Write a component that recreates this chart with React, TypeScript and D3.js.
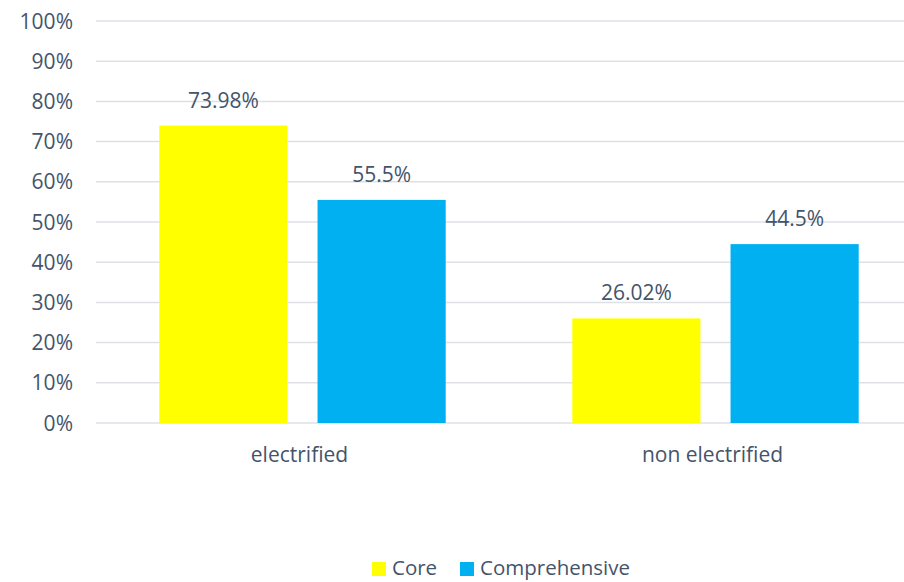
import * as d3 from "d3";

const categories = ["electrified", "non electrified"];
const seriesNames = ["Core", "Comprehensive"];
const coreValues = [73.98, 26.02];
const comprehensiveValues = [55.5, 44.5];
const valueLabels = [
  ["73.98%", "55.5%"],
  ["26.02%", "44.5%"],
];
const yTicks = [0, 10, 20, 30, 40, 50, 60, 70, 80, 90, 100];

const colors = { Core: "#FFFF00", Comprehensive: "#00B0F0" };
const textColor = "#44546A";
const font = "'Open Sans', Lato, sans-serif";
const fs = 21;

export default function App() {
  const width = 904;
  const height = 582;
  const margin = { top: 21, left: 96, right: -18, bottom: 159 };

  const y = d3
    .scaleLinear()
    .domain([0, 100])
    .range([height - margin.bottom, margin.top]);

  const x0 = d3
    .scaleBand()
    .domain(categories)
    .range([margin.left, width - margin.right]);

  const x1 = d3
    .scaleBand()
    .domain(seriesNames)
    .range([0, x0.bandwidth()])
    .paddingInner(0.19)
    .paddingOuter(0.4);

  const rows = categories.map((c, i) => ({
    category: c,
    values: [
      { key: "Core", value: coreValues[i], label: valueLabels[i][0] },
      { key: "Comprehensive", value: comprehensiveValues[i], label: valueLabels[i][1] },
    ],
  }));

  const legendItems = [
    { key: "Core", x: 372 },
    { key: "Comprehensive", x: 460 },
  ];

  return (
    <svg
      width={width}
      height={height}
      style={{ position: "absolute", left: 0, top: 0, background: "#fff" }}
      fontFamily={font}
    >
      {yTicks.map((t) => (
        <g key={t}>
          <line
            x1={margin.left}
            x2={width}
            y1={y(t)}
            y2={y(t)}
            stroke="#DDE1E6"
            strokeWidth={1.5}
          />
          <text
            x={73}
            y={y(t)}
            dy="0.36em"
            textAnchor="end"
            fontSize={fs}
            fill={textColor}
          >
            {t}%
          </text>
        </g>
      ))}

      {rows.map((r) => (
        <g key={r.category} transform={`translate(${x0(r.category)},0)`}>
          {r.values.map((v) => (
            <g key={v.key}>
              <rect
                x={x1(v.key)}
                y={y(v.value)}
                width={x1.bandwidth()}
                height={y(0) - y(v.value)}
                fill={colors[v.key]}
              />
              <text
                x={x1(v.key)! + x1.bandwidth() / 2}
                y={y(v.value) - 18}
                textAnchor="middle"
                fontSize={fs}
                fill={textColor}
              >
                {v.label}
              </text>
            </g>
          ))}
          <text
            x={x0.bandwidth() / 2 - 3}
            y={y(0) + 39}
            textAnchor="middle"
            fontSize={fs}
            fill={textColor}
          >
            {r.category}
          </text>
        </g>
      ))}

      {legendItems.map((l) => (
        <g key={l.key}>
          <rect x={l.x} y={562} width={14} height={14} fill={colors[l.key]} />
          <text x={l.x + 20} y={575} fontSize={20.5} fill={textColor}>
            {l.key}
          </text>
        </g>
      ))}
    </svg>
  );
}
